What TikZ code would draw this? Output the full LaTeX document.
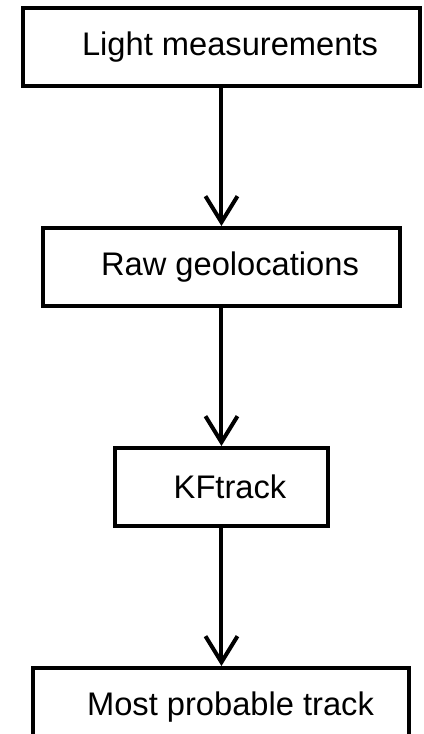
\documentclass[tikz,border=0pt]{standalone}
\usepackage{fontspec}
\setmainfont{Liberation Sans}
\usetikzlibrary{positioning,arrows.meta}

\tikzset{
  stage/.style={draw, line width=3pt, minimum height=58.5pt, inner sep=0pt},
  flow/.style={line width=3pt, -{Straight Barb[length=19.5pt, width=24pt, line width=3pt]}},
}

\begin{document}
\begin{tikzpicture}[font=\fontsize{24.5}{29}\selectfont]
            \useasboundingbox (0,0) rectangle (318pt,-550.5pt);
            \node[stage, minimum width=297.75pt,
                  label={[xshift=6.4pt]center:Light measurements}] (light) at (166.1pt,-35.25pt) {};
            \node[stage, minimum width=267.75pt, below=103.5pt of light,
                  label={[xshift=6.4pt]center:Raw geolocations}] (raw) {};
            \node[stage, minimum width=159.75pt, below=103.5pt of raw,
                  label={[xshift=6.4pt]center:KFtrack}] (kf) {};
            \node[stage, minimum width=282pt, below=103.5pt of kf,
                  label={[xshift=6.8pt]center:Most probable track}] (track) {};
            \draw[flow] (light) -- (raw);
            \draw[flow] (raw) -- (kf);
            \draw[flow] (kf) -- (track);
        \end{tikzpicture}
\end{document}
